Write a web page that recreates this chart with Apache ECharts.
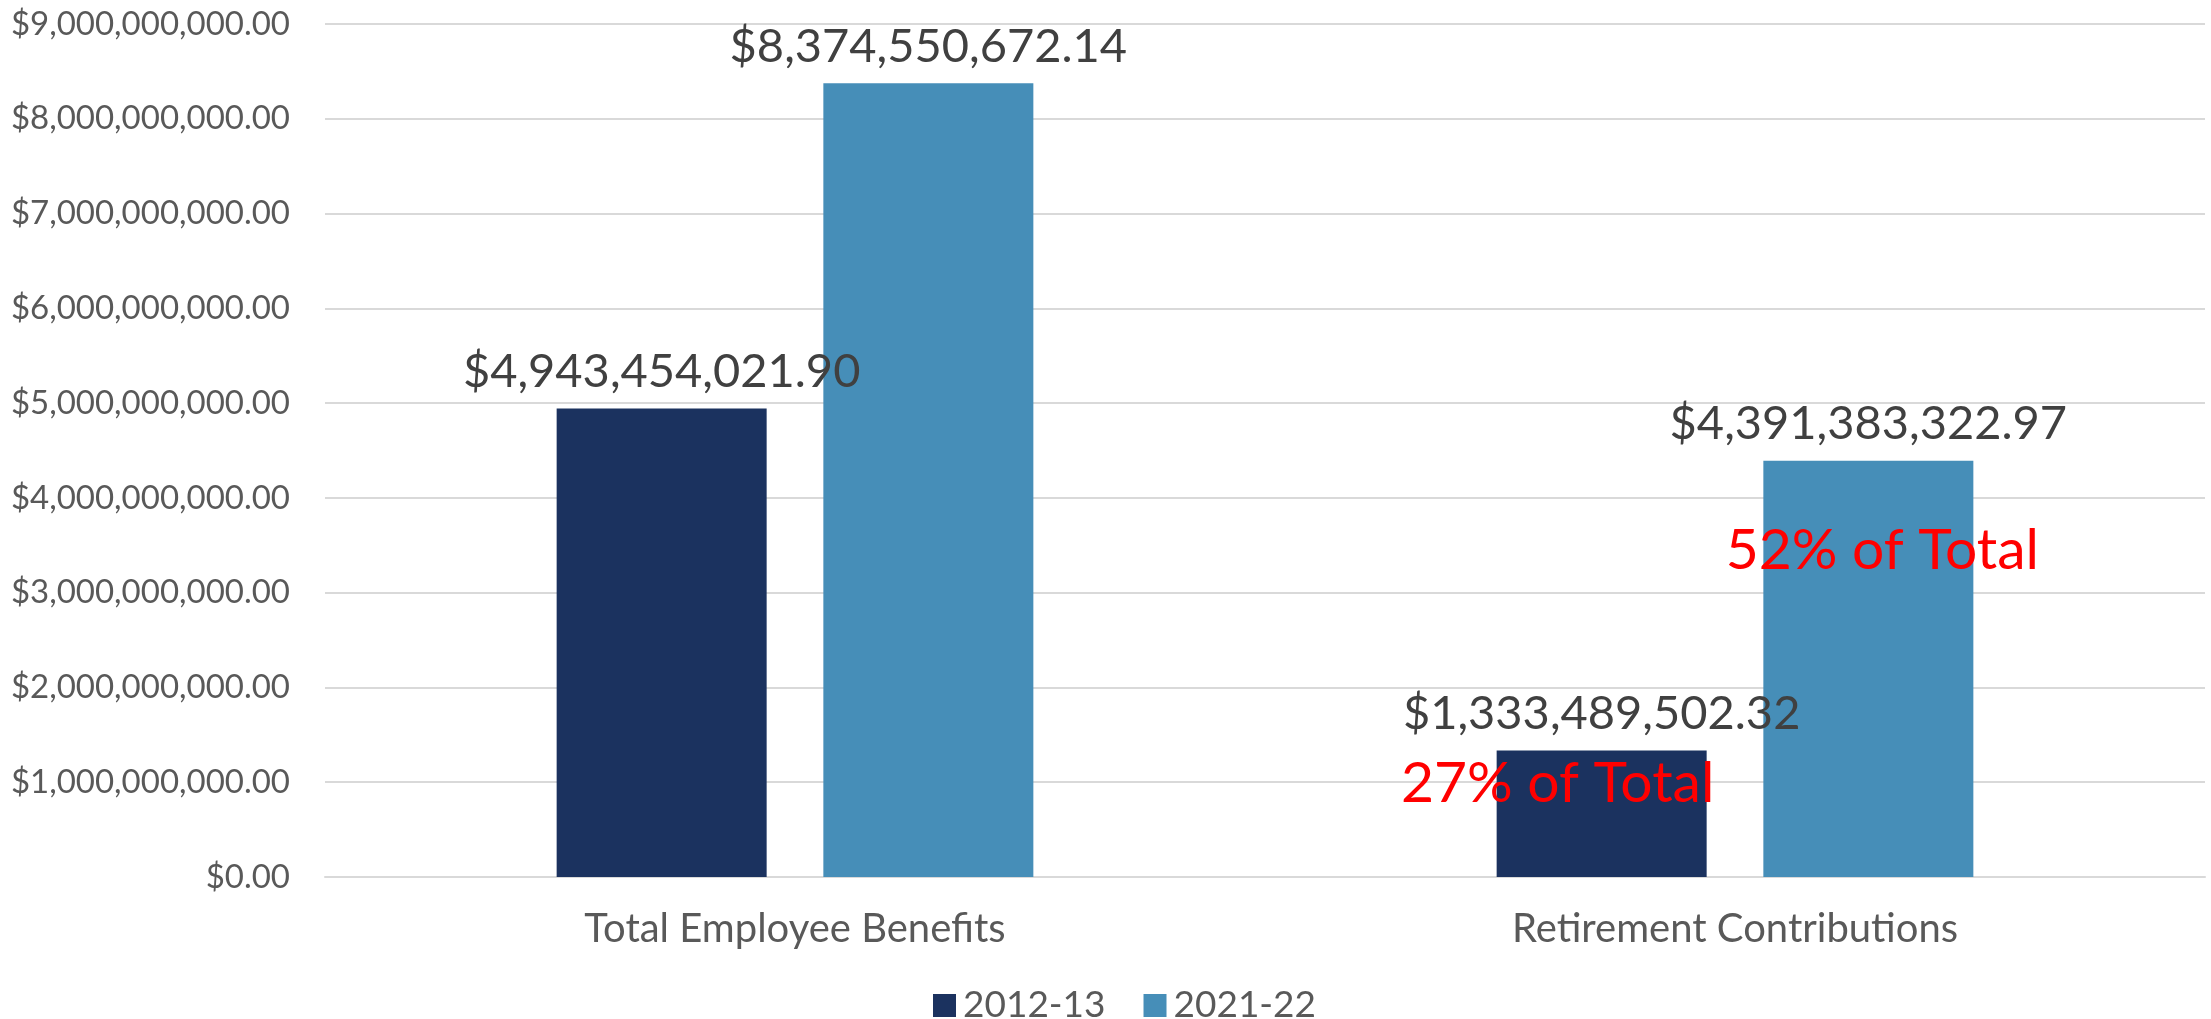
<!DOCTYPE html>
<html>
<head>
<meta charset="utf-8">
<script src="https://cdn.jsdelivr.net/npm/echarts@6/dist/echarts.min.js"></script>
<style>
  html, body { margin: 0; padding: 0; background: #fff; }
  #chart { width: 2211px; height: 1019px; }
</style>
</head>
<body>
<div id="chart"></div>
<script>
// categories and series
const categories = ['Total Employee Benefits', 'Retirement Contributions']
const seriesNames = ['2012-13', '2021-22']
const values2012 = [4943454021.90, 1333489502.32]
const values2021 = [8374550672.14, 4391383322.97]
// share of total callouts, shown on the Retirement Contributions bars
const shareLabels = ['27% of Total', '52% of Total']

const COLORS = ['#1B325F', '#468EB8']
const LABEL_FONT = 'Lato, "Open Sans", sans-serif'

function money(v) {
  return '$' + Number(v).toLocaleString('en-US', { minimumFractionDigits: 2, maximumFractionDigits: 2 })
}

function shareMark(idx, values, offset) {
  return {
    symbol: 'circle',
    symbolSize: 0,
    itemStyle: { color: 'transparent' },
    label: {
      show: true,
      position: 'inside',
      offset: offset,
      color: '#FF0000',
      fontFamily: LABEL_FONT,
      fontSize: 57,
      formatter: () => shareLabels[idx],
    },
    data: [{ coord: [categories[1], values[1]] }],
  }
}

const chart = echarts.init(document.getElementById('chart'), null, { renderer: 'canvas' })

const valueLabel = {
  show: true,
  position: 'top',
  distance: 13,
  color: '#404040',
  fontFamily: LABEL_FONT,
  fontSize: 47,
  formatter: p => money(p.value),
}

chart.setOption({
  animation: false,
  grid: { left: 325, right: 6, top: 24, bottom: 142 },
  legend: {
    left: 928,
    top: 982,
    itemWidth: 23,
    itemHeight: 23,
    itemGap: 38,
    icon: 'rect',
    textStyle: { color: '#595959', fontFamily: LABEL_FONT, fontSize: 37, padding: [0, 0, 0, 2] },
    data: seriesNames,
  },
  xAxis: {
    type: 'category',
    data: categories,
    axisLine: { show: true, lineStyle: { color: '#D9D9D9', width: 2 } },
    axisTick: { show: false },
    axisLabel: { color: '#595959', fontFamily: LABEL_FONT, fontSize: 40, margin: 32 },
  },
  yAxis: {
    type: 'value',
    min: 0,
    max: 9000000000,
    interval: 1000000000,
    axisLine: { show: false },
    axisTick: { show: false },
    splitLine: { lineStyle: { color: '#D9D9D9', width: 2 } },
    axisLabel: { color: '#595959', fontFamily: LABEL_FONT, fontSize: 33, margin: 35, formatter: money },
  },
  series: [
    {
      name: seriesNames[0],
      type: 'bar',
      data: values2012,
      barWidth: 210,
      barGap: '27%',
      itemStyle: { color: COLORS[0] },
      label: valueLabel,
      markPoint: shareMark(0, values2012, [-44, 33]),
    },
    {
      name: seriesNames[1],
      type: 'bar',
      data: values2021,
      barWidth: 210,
      barGap: '27%',
      itemStyle: { color: COLORS[1] },
      label: valueLabel,
      markPoint: shareMark(1, values2021, [14, 90]),
    },
  ],
})
</script>
</body>
</html>
